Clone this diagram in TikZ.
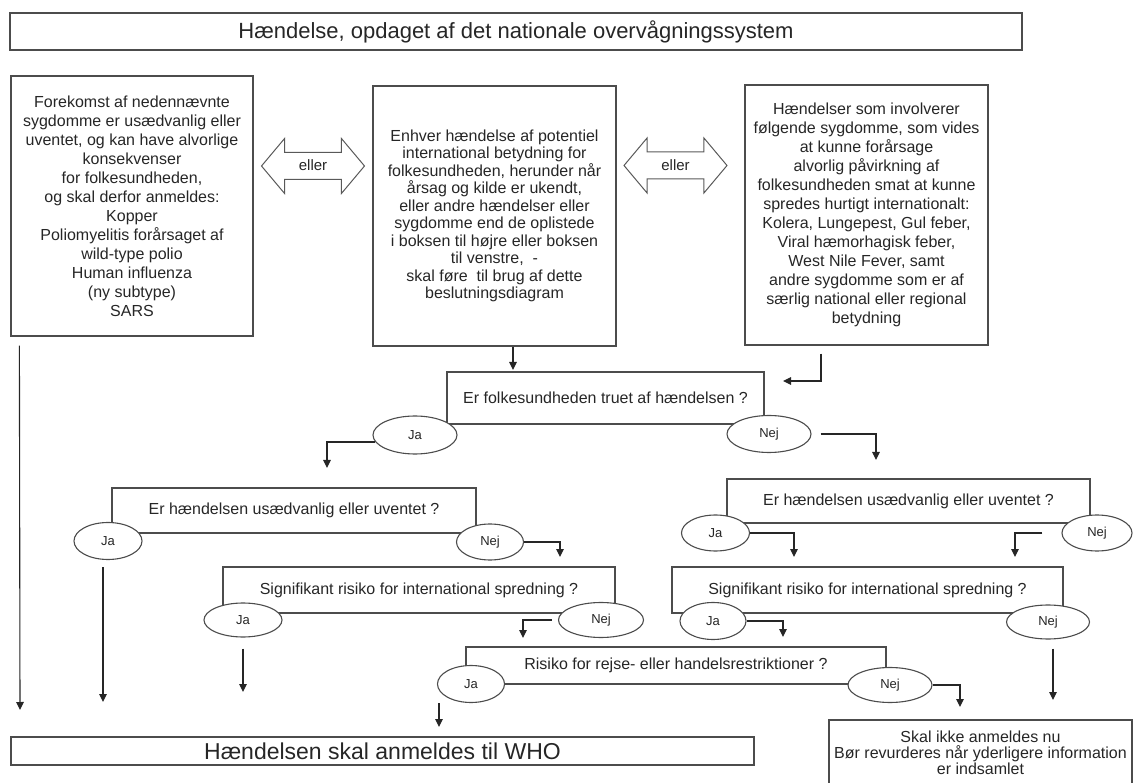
\documentclass[tikz,border=0pt]{standalone}
\usepackage{fontspec}
\setmainfont{Liberation Sans}
\usetikzlibrary{shapes.geometric,shapes.arrows,arrows.meta,calc}

\tikzset{
  box/.style={draw=black!70, line width=1.2pt, inner sep=0pt, align=center, text=black!85},
  question/.style={box, font=\fontsize{16}{19}\selectfont},
  answer/.style={ellipse, draw=black!70, line width=1.1pt, fill=white, inner sep=0pt, text=black!85, font=\fontsize{13}{15}\selectfont},
  eller/.style={double arrow, draw=black!65, line width=1pt, double arrow head extend=14pt, double arrow tip angle=100, minimum height=103pt, text height=10pt, text depth=0pt, inner xsep=2pt, inner ysep=8pt, font=\fontsize{15}{17}\selectfont, text=black!85},
  arrow/.style={-{Triangle[length=8pt,width=7.5pt]}, line width=1.1pt, black!85}
}

\begin{document}
\begin{tikzpicture}[x=1pt,y=-1pt]
\useasboundingbox (0,0) rectangle (1133,783);

% top
\node[box, minimum width=1012pt, minimum height=37pt, font=\fontsize{22}{26}\selectfont] (title) at (516,31.5) {Hændelse, opdaget af det nationale overvågningssystem};

\node[box, minimum width=242pt, minimum height=260pt, font=\fontsize{16}{19}\selectfont] (left) at (132,206) {Forekomst af nedennævnte\\sygdomme er usædvanlig eller\\uventet, og kan have alvorlige\\konsekvenser\\for folkesundheden,\\og skal derfor anmeldes:\\Kopper\\Poliomyelitis forårsaget af\\wild-type polio\\Human influenza\\(ny subtype)\\SARS};
\node[box, minimum width=243pt, minimum height=260pt, font=\fontsize{16}{17.5}\selectfont] (mid) at (494.5,216) {Enhver hændelse af potentiel\\international betydning for\\folkesundheden, herunder når\\årsag og kilde er ukendt,\\eller andre hændelser eller\\sygdomme end de oplistede\\i boksen til højre eller boksen\\til venstre,\ \ -\\skal føre\ \ til brug af dette\\beslutningsdiagram};
\node[box, minimum width=243pt, minimum height=260pt, font=\fontsize{16}{19}\selectfont] (right) at (866.5,215) {Hændelser som involverer\\følgende sygdomme, som vides\\at kunne forårsage\\alvorlig påvirkning af\\folkesundheden smat at kunne\\spredes hurtigt internationalt:\\Kolera, Lungepest, Gul feber,\\Viral hæmorhagisk feber,\\West Nile Fever, samt\\andre sygdomme som er af\\særlig national eller regional\\betydning};

\node[eller] (eller1) at (313,166) {eller};
\node[eller] (eller2) at (675.5,165.5) {eller};

% questions
\node[question, minimum width=317pt, minimum height=52pt] (q1) at (605.5,398) {Er folkesundheden truet af hændelsen ?};
\node[question, minimum width=364pt, minimum height=45pt] (q2l) at (294,510.5) {Er hændelsen usædvanlig eller uventet ?};
\node[question, minimum width=363pt, minimum height=44pt] (q2r) at (908.5,501) {Er hændelsen usædvanlig eller uventet ?};
\node[question, minimum width=392pt, minimum height=46pt] (q3l) at (419,590) {Signifikant risiko for international spredning ?};
\node[question, minimum width=391pt, minimum height=46pt] (q3r) at (867.5,590) {Signifikant risiko for international spredning ?};
\node[question, minimum width=420pt, minimum height=37pt] (q4) at (676,665.5) {Risiko for rejse- eller handelsrestriktioner ?};

% answers
\node[answer, minimum width=84pt, minimum height=38pt] (ja1) at (415,435) {Ja};
\node[answer, minimum width=84pt, minimum height=37pt] (nej1) at (769,434) {Nej};
\node[answer, minimum width=68pt, minimum height=37pt] (ja2l) at (108,541) {Ja};
\node[answer, minimum width=67pt, minimum height=36pt] (nej2l) at (490,542) {Nej};
\node[answer, minimum width=68pt, minimum height=36pt] (ja2r) at (715.5,533) {Ja};
\node[answer, minimum width=70pt, minimum height=36pt] (nej2r) at (1097,533) {Nej};
\node[answer, minimum width=78pt, minimum height=34pt] (ja3l) at (243,620) {Ja};
\node[answer, minimum width=85pt, minimum height=35pt] (nej3l) at (601,620) {Nej};
\node[answer, minimum width=66pt, minimum height=37pt] (ja3r) at (713,621) {Ja};
\node[answer, minimum width=83pt, minimum height=34pt] (nej3r) at (1048,622) {Nej};
\node[answer, minimum width=67pt, minimum height=37pt] (ja4) at (471,684) {Ja};
\node[answer, minimum width=84pt, minimum height=35pt] (nej4) at (890,685) {Nej};

% results
\node[box, minimum width=743pt, minimum height=28pt, font=\fontsize{23}{26}\selectfont] (who) at (382.5,751) {Hændelsen skal anmeldes til WHO};
\node[box, minimum width=303pt, minimum height=66pt, font=\fontsize{16}{16}\selectfont] (skip) at (980.5,753) {Skal ikke anmeldes nu\\Bør revurderes når yderligere information\\er indsamlet};

% arrow ends
\coordinate (toWho1) at (20,710);
\coordinate (toQ1a) at (513,370);
\coordinate (bendR) at (821,381);
\coordinate (toQ1b) at (783,381);
\coordinate (toQ2l) at (327,468);
\coordinate (toQ2r) at (876,460);
\coordinate (toWho2) at (103,702);
\coordinate (toQ3l) at (560,557);
\coordinate (toQ3ra) at (794,557);
\coordinate (toQ3rb) at (1015,557);
\coordinate (toWho3) at (243,692);
\coordinate (toQ4a) at (523,638);
\coordinate (toQ4b) at (783,637);
\coordinate (toSkip1) at (1053,700);
\coordinate (toWho4) at (439,727);
\coordinate (toSkip2) at (960,707);

\draw[arrow] ($(left.south west)+(9,9)$) -- (toWho1);
\draw[arrow] (mid.south -| toQ1a) -- (toQ1a);
\draw[arrow] ($(right.south -| bendR)+(0,8)$) -- (bendR) -- (toQ1b);
\draw[arrow] (ja1.190) -| (toQ2l);
\draw[arrow] ($(nej1.east)+(9,0)$) -| (toQ2r);
\draw[arrow] ($(ja2l.south -| toWho2)+(0,7)$) -- (toWho2);
\draw[arrow] (nej2l.east) -| (toQ3l);
\draw[arrow] (ja2r.east) -| (toQ3ra);
\draw[arrow] ($(nej2r.west)+(-19,0)$) -| (toQ3rb);
\draw[arrow] ($(ja3l.south)+(0,11)$) -- (toWho3);
\draw[arrow] ($(nej3l.west)+(-6,0)$) -| (toQ4a);
\draw[arrow] (ja3r.east) -| (toQ4b);
\draw[arrow] ($(nej3r.south -| toSkip1)+(0,9)$) -- (toSkip1);
\draw[arrow] (ja4.south -| toWho4) -- (toWho4);
\draw[arrow] (nej4.east) -| (toSkip2);
\end{tikzpicture}
\end{document}
